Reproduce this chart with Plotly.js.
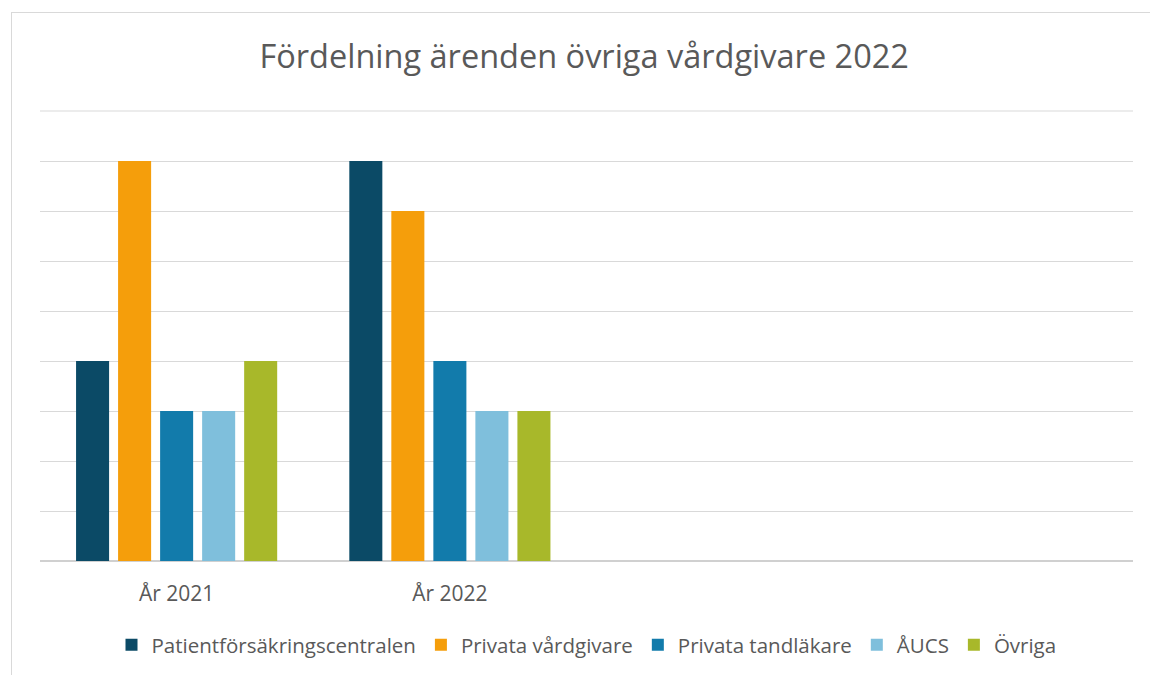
<!DOCTYPE html>
<html>
<head>
<meta charset="utf-8">
<script src="https://cdn.plot.ly/plotly-3.0.1.min.js"></script>
<style>
html,body{margin:0;padding:0;background:#fff;}
#chart{position:absolute;left:0;top:0;width:1150px;height:675px;}
#frame{position:absolute;left:11px;top:12px;width:1150px;height:675px;border:1px solid #d9d9d9;pointer-events:none;}
</style>
</head>
<body>
<div id="chart"></div>
<div id="frame"></div>
<script>
const categories = ["År 2021", "År 2022", " ", "  "];
const seriesNames = ["Patientförsäkringscentralen", "Privata vårdgivare", "Privata tandläkare", "ÅUCS", "Övriga"];
const patientforsakring = [4, 8, null, null];
const privataVardgivare = [8, 7, null, null];
const privataTandlakare = [3, 4, null, null];
const aucs = [3, 3, null, null];
const ovriga = [4, 3, null, null];
const colors = ["#0b4a66", "#f59e0b", "#127bab", "#7fbfdc", "#a8b82a"];

const seriesValues = [patientforsakring, privataVardgivare, privataTandlakare, aucs, ovriga];
const traces = seriesValues.map((vals, i) => ({
  type: "bar",
  name: seriesNames[i],
  x: categories,
  y: vals,
  marker: {color: colors[i]},
  hoverinfo: "x+y+name"
}));

const layout = {
  width: 1150,
  height: 675,
  paper_bgcolor: "#ffffff",
  plot_bgcolor: "#ffffff",
  font: {family: "Open Sans, sans-serif", color: "#595959", size: 21},
  title: {
    text: "Fördelning ärenden övriga vårdgivare 2022",
    font: {family: "Open Sans, sans-serif", size: 32.5, color: "#595959"},
    x: 0.508, xanchor: "center",
    y: 1 - 57/675, yanchor: "middle"
  },
  margin: {l: 40, r: 17, t: 111, b: 114, autoexpand: false},
  barmode: "group",
  bargap: 0.231,
  bargroupgap: 0.214,
  showlegend: true,
  legend: {
    orientation: "h",
    x: 0.5, xanchor: "center",
    yref: "container",
    y: 1 - 645/675, yanchor: "middle",
    font: {size: 20.5, color: "#595959"},
    itemwidth: 30,
    traceorder: "normal"
  },
  xaxis: {
    type: "category",
    categoryorder: "array",
    categoryarray: categories,
    range: [-0.5, 3.5],
    automargin: false,
    showgrid: false,
    showline: false,
    zeroline: false,
    ticks: "outside",
    ticklen: 14,
    tickcolor: "rgba(0,0,0,0)",
    tickfont: {size: 21, color: "#595959"}
  },
  yaxis: {
    range: [0, 9],
    dtick: 1,
    automargin: false,
    showticklabels: false,
    showgrid: true,
    gridcolor: "#d9d9d9",
    gridwidth: 1,
    zeroline: true,
    zerolinecolor: "#d0d0d0",
    zerolinewidth: 1.5,
    showline: false
  },
  shapes: [{
    type: "line", xref: "paper", yref: "paper",
    x0: 0, x1: 1, y0: 1, y1: 1,
    line: {color: "#d9d9d9", width: 1},
    layer: "above"
  }]
};

Plotly.newPlot("chart", traces, layout, {displayModeBar: false, staticPlot: true});
</script>
</body>
</html>
